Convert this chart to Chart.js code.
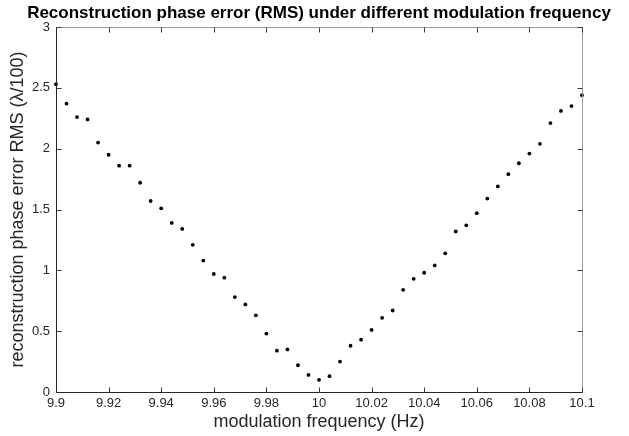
<!DOCTYPE html>
<html>
<head>
<meta charset="utf-8">
<script src="https://cdn.jsdelivr.net/npm/chart.js@4/dist/chart.umd.min.js"></script>
<style>
  body { margin: 0; background: #fff; }
  canvas { display: block; }
</style>
</head>
<body>
<canvas id="myChart" width="629" height="436"></canvas>
<script>
// modulation frequency (Hz)
var freq = [
    9.900, 9.904, 9.908, 9.912, 9.916, 9.920, 9.924, 9.928, 9.932, 9.936,
    9.940, 9.944, 9.948, 9.952, 9.956, 9.960, 9.964, 9.968, 9.972, 9.976,
    9.980, 9.984, 9.988, 9.992, 9.996, 10.000, 10.004, 10.008, 10.012, 10.016,
    10.020, 10.024, 10.028, 10.032, 10.036, 10.040, 10.044, 10.048, 10.052, 10.056,
    10.060, 10.064, 10.068, 10.072, 10.076, 10.080, 10.084, 10.088, 10.092, 10.096,
    10.100
];
// reconstruction phase error RMS (lambda/100)
var rmsError = [
    2.53, 2.37, 2.26, 2.24, 2.05, 1.95, 1.86, 1.86, 1.72, 1.57,
    1.51, 1.39, 1.34, 1.21, 1.08, 0.97, 0.94, 0.78, 0.72, 0.63,
    0.48, 0.34, 0.35, 0.22, 0.14, 0.10, 0.13, 0.25, 0.38, 0.43,
    0.51, 0.61, 0.67, 0.84, 0.93, 0.98, 1.04, 1.14, 1.32, 1.37,
    1.47, 1.59, 1.69, 1.79, 1.88, 1.96, 2.04, 2.21, 2.31, 2.35,
    2.44
];
var xTicks = [9.9, 9.92, 9.94, 9.96, 9.98, 10, 10.02, 10.04, 10.06, 10.08, 10.1];
var xTickLabels = ['9.9', '9.92', '9.94', '9.96', '9.98', '10', '10.02', '10.04', '10.06', '10.08', '10.1'];
var yTicks = [0, 0.5, 1, 1.5, 2, 2.5, 3];
var yTickLabels = ['0', '0.5', '1', '1.5', '2', '2.5', '3'];

var points = freq.map(function (f, i) { return { x: f, y: rmsError[i] }; });

// matlab style box with inward ticks
var boxTicks = {
    id: 'boxTicks',
    afterDatasetsDraw: function (chart) {
        var ctx = chart.ctx, a = chart.chartArea;
        var x = chart.scales.x, y = chart.scales.y;
        var len = 5;
        var l = Math.round(a.left) + 0.5, r = Math.round(a.right) + 0.5;
        var t = Math.round(a.top) + 0.5, b = Math.round(a.bottom) + 0.5;
        ctx.save();
        ctx.lineWidth = 1;
        // top / right edges are lighter in the original
        ctx.strokeStyle = '#9a9a9a';
        ctx.beginPath();
        ctx.moveTo(l, t); ctx.lineTo(r, t); ctx.lineTo(r, b);
        ctx.stroke();
        ctx.strokeStyle = '#3a3a3a';
        ctx.beginPath();
        xTicks.forEach(function (v) {
            var px = Math.round(x.getPixelForValue(v)) + 0.5;
            ctx.moveTo(px, b); ctx.lineTo(px, b - len);
            ctx.moveTo(px, t); ctx.lineTo(px, t + len);
        });
        yTicks.forEach(function (v) {
            var py = Math.round(y.getPixelForValue(v)) + 0.5;
            ctx.moveTo(l, py); ctx.lineTo(l + len, py);
            ctx.moveTo(r, py); ctx.lineTo(r - len, py);
        });
        ctx.stroke();
        ctx.strokeStyle = '#262626';
        ctx.beginPath();
        ctx.moveTo(l, t); ctx.lineTo(l, b); ctx.lineTo(r, b);
        ctx.stroke();
        ctx.restore();
    }
};

var ctx = document.getElementById('myChart').getContext('2d');
Chart.defaults.font.family = '"Liberation Sans", Arial, sans-serif';
Chart.defaults.color = '#262626';

var myChart = new Chart(ctx, {
    type: 'scatter',
    data: {
        datasets: [{
            data: points,
            backgroundColor: '#000',
            borderColor: '#000',
            pointRadius: 1.9,
            pointBorderWidth: 0,
            clip: false
        }]
    },
    options: {
        responsive: false,
        animation: false,
        layout: { padding: { left: 9, right: 0, top: 0, bottom: 0 } },
        plugins: {
            legend: { display: false },
            tooltip: { enabled: false },
            title: {
                display: true,
                text: 'Reconstruction phase error (RMS) under different modulation frequency',
                color: '#000',
                font: { size: 17, weight: 'bold' },
                padding: { top: 3, bottom: 3.6 }
            }
        },
        scales: {
            x: {
                type: 'linear',
                min: 9.9,
                max: 10.1,
                grid: { display: false, drawTicks: false },
                border: { display: false },
                afterBuildTicks: function (scale) {
                    scale.ticks = xTicks.map(function (v) { return { value: v }; });
                },
                afterFit: function (scale) { scale.height = 44; },
                ticks: {
                    autoSkip: false,
                    maxRotation: 0,
                    padding: 4,
                    font: { size: 13 },
                    callback: function (v, i) { return xTickLabels[i]; }
                },
                title: {
                    display: true,
                    text: 'modulation frequency (Hz)',
                    font: { size: 18 },
                    padding: { top: 0, bottom: 3 }
                }
            },
            y: {
                min: 0,
                max: 3,
                grid: { display: false, drawTicks: false },
                border: { display: false },
                afterBuildTicks: function (scale) {
                    scale.ticks = yTicks.map(function (v) { return { value: v }; });
                },
                afterFit: function (scale) { scale.width = 47; },
                ticks: {
                    autoSkip: false,
                    padding: 6,
                    font: { size: 13 },
                    callback: function (v, i) { return yTickLabels[i]; }
                },
                title: {
                    display: true,
                    text: 'reconstruction phase error RMS (λ/100)',
                    font: { size: 18 },
                    padding: { top: -2, bottom: 0 }
                }
            },
            // empty right axis keeps the right margin so the title centres over the plot
            yRight: {
                position: 'right',
                min: 0,
                max: 3,
                grid: { display: false, drawTicks: false },
                border: { display: false },
                ticks: { display: false },
                afterFit: function (scale) { scale.width = 47; }
            }
        }
    },
    plugins: [boxTicks]
});
</script>
</body>
</html>
